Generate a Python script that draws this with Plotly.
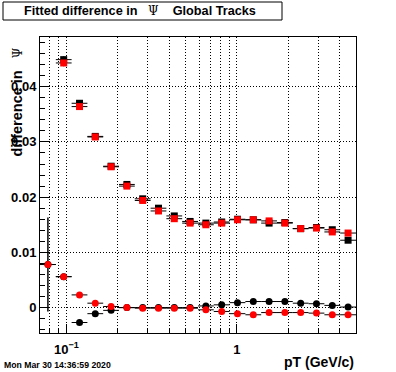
import plotly.graph_objects as go

# ---- data ----
pt_center = [0.0779, 0.0964, 0.1194, 0.1477, 0.1829, 0.2264, 0.2803, 0.3469, 0.4295, 0.5317,
             0.6581, 0.8147, 1.0085, 1.2485, 1.5455, 1.9132, 2.3684, 2.9318, 3.6294, 4.4929]
pt_edges = [0.07, 0.0867, 0.1073, 0.1328, 0.1644, 0.2035, 0.2519, 0.3118, 0.3860, 0.4778, 0.5915,
            0.7322, 0.9064, 1.1221, 1.3890, 1.7195, 2.1286, 2.6350, 3.2620, 4.0380, 5.0]

black_sq = [None, 0.0449, 0.0370, 0.0310, 0.0256, 0.0223, 0.0197, 0.0180, 0.0166, 0.0156,
            0.0153, 0.0155, 0.0160, 0.0159, 0.0153, 0.0154, 0.0143, 0.0145, 0.0141, 0.0122]
red_sq = [None, 0.0443, 0.0364, 0.0309, 0.0255, 0.0220, 0.0194, 0.0175, 0.0161, 0.0153,
          0.0150, 0.0153, 0.0159, 0.0159, 0.0157, 0.0153, 0.0143, 0.0144, 0.0137, 0.0135]
sq_err = [0, 0.0006, 0.0005, 0.0004, 0.0003, 0.0003, 0.0002, 0.0002, 0.0002, 0.0002,
          0.0002, 0.0002, 0.0002, 0.0002, 0.0002, 0.0002, 0.0002, 0.0002, 0.0002, 0.0003]

black_c = [0.0078, 0.0056, -0.0027, -0.0011, -0.0005, 0.0000, 0.0000, 0.0000, 0.0000, 0.0000,
           0.0003, 0.0005, 0.0009, 0.0011, 0.0011, 0.0011, 0.0008, 0.0007, 0.0004, 0.0001]
red_c = [0.0078, 0.0056, 0.0023, 0.0008, 0.0002, 0.0000, -0.0001, -0.0001, -0.0001, -0.0001,
         -0.0004, -0.0007, -0.0011, -0.0013, -0.0009, -0.0009, -0.0009, -0.0010, -0.0013, -0.0013]
c_err = [0.0085, 0.0002, 0.0002, 0.0001, 0.0001, 0.0001, 0.0001, 0.0001, 0.0001, 0.0001,
         0.0001, 0.0001, 0.0001, 0.0001, 0.0001, 0.0001, 0.0001, 0.0001, 0.0001, 0.0001]

x_ticks = [0.1, 1]
x_ticktext = ["10<sup>\u22121</sup>", "1"]
x_minor = [0.07, 0.08, 0.09, 0.2, 0.3, 0.4, 0.5, 0.6, 0.7, 0.8, 0.9, 2, 3, 4]
y_ticks = [0, 0.01, 0.02, 0.03, 0.04]
y_ticktext = ["0", "0.01", "0.02", "0.03", "0.04"]

NB = "\u00a0"
PSI = "<span style='font-family:DejaVu Serif;font-weight:normal;font-size:12px'>\u03a8</span>"
title_text = "Fitted difference in" + NB * 3 + PSI + NB * 4 + "Global Tracks"
ytitle_text = "difference in" + NB * 3 + PSI
xtitle_text = "pT (GeV/c)"
stamp_text = "Mon Mar 30 14:36:59 2020"

# ---- figure ----
W, H = 396, 372
ML, MR, MT, MB = 40, 40, 37, 39
PW, PH = W - ML - MR, H - MT - MB


def px(xp):
    return (xp - ML) / PW


def py(yp):
    return (H - MB - yp) / PH


err_hi = [pt_edges[i + 1] - pt_center[i] for i in range(len(pt_center))]
err_lo = [pt_center[i] - pt_edges[i] for i in range(len(pt_center))]

FONT = "Liberation Sans, Arial, Helvetica, sans-serif"
DOT = "1px,2px"


def trace(yvals, yerr, color, symbol):
    return go.Scatter(
        x=pt_center, y=yvals, mode="markers",
        marker=dict(color=color, symbol=symbol, size=7, line=dict(width=0)),
        error_x=dict(type="data", symmetric=False, array=err_hi, arrayminus=err_lo,
                     color="black", thickness=1, width=0),
        error_y=dict(type="data", array=yerr, color="black", thickness=1, width=0),
        showlegend=False, cliponaxis=True, hoverinfo="skip",
    )


fig = go.Figure()
fig.add_trace(trace(black_sq, sq_err, "black", "square"))
fig.add_trace(trace(red_sq, sq_err, "red", "square"))
fig.add_trace(trace(black_c, c_err, "black", "circle"))
fig.add_trace(trace(red_c, c_err, "red", "circle"))

fig.update_layout(
    width=W, height=H,
    margin=dict(l=ML, r=MR, t=MT, b=MB, pad=0),
    paper_bgcolor="white", plot_bgcolor="white",
    font=dict(family=FONT, color="black"),
    showlegend=False,
)

fig.update_xaxes(
    type="log", range=[-1.1549, 0.69897],
    showline=True, linecolor="black", linewidth=1, mirror=True,
    tickmode="array", tickvals=x_ticks, ticktext=x_ticktext,
    ticks="inside", ticklen=9, tickcolor="black", tickwidth=1,
    tickfont=dict(family=FONT, size=13, weight="bold"),
    ticklabelstandoff=4,
    showgrid=True, gridcolor="black", griddash=DOT, gridwidth=1,
    minor=dict(tickmode="array", tickvals=x_minor, ticks="inside", ticklen=5,
               tickcolor="black", showgrid=True, gridcolor="black", griddash=DOT, gridwidth=1),
    zeroline=False,
)
fig.update_yaxes(
    range=[-0.0046, 0.049],
    showline=True, linecolor="black", linewidth=1, mirror=True,
    tickmode="array", tickvals=y_ticks, ticktext=y_ticktext,
    ticks="inside", ticklen=9, tickcolor="black", tickwidth=1,
    tickfont=dict(family=FONT, size=13, weight="bold"),
    showgrid=True, gridcolor="black", griddash=DOT, gridwidth=1,
    minor=dict(dtick=0.002, tick0=0, ticks="inside", ticklen=5, tickcolor="black", showgrid=False),
    zeroline=False,
)

# title box
fig.add_shape(type="rect", xref="paper", yref="paper",
              x0=px(3), x1=px(282), y0=py(20), y1=py(2),
              line=dict(color="black", width=1), fillcolor="white", layer="above")
fig.add_annotation(xref="paper", yref="paper", x=px(140), y=py(11),
                   text=title_text, showarrow=False, xanchor="center", yanchor="middle",
                   font=dict(family=FONT, size=12.7, weight="bold"))
# y title
fig.add_annotation(xref="paper", yref="paper", x=px(17), y=py(46),
                   text=ytitle_text, showarrow=False, textangle=-90,
                   xanchor="center", yanchor="top",
                   font=dict(family=FONT, size=14.5, weight="bold"))
# x title
fig.add_annotation(xref="paper", yref="paper", x=px(356), y=py(362),
                   text=xtitle_text, showarrow=False, xanchor="right", yanchor="middle",
                   font=dict(family=FONT, size=14, weight="bold"))
# timestamp
fig.add_annotation(xref="paper", yref="paper", x=px(2), y=py(364.5),
                   text=stamp_text, showarrow=False, xanchor="left", yanchor="middle",
                   font=dict(family=FONT, size=8.7, weight="bold"))

fig.write_html("out.html", config={"displayModeBar": False},
               post_script="document.body.style.margin='0';document.body.style.padding='0';")
